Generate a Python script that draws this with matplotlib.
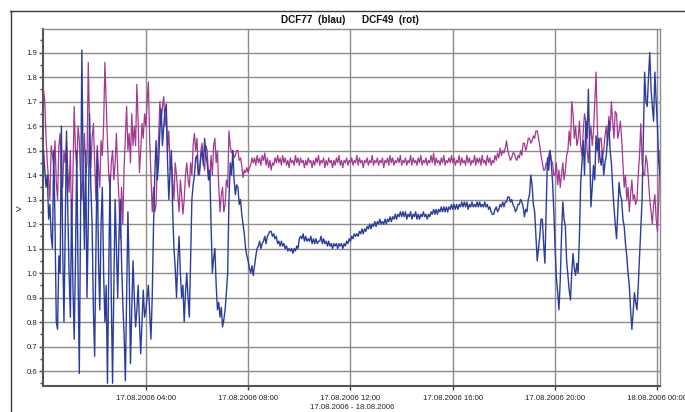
import numpy as np
import matplotlib
matplotlib.use("Agg")
import matplotlib.pyplot as plt
from matplotlib.lines import Line2D
from matplotlib import font_manager

# ---------------- data (sample interval 0.05 h = 3 min, starting 17.08.2006 00:00) ----
sample_step_h = 0.05

blue_00_02 = [1.50, 1.42, 1.35, 1.40, 1.22, 1.28, 1.15, 1.10, 1.50, 1.20,
              0.80, 0.77, 1.07, 1.00, 1.60, 1.10, 0.80, 1.20, 1.58, 1.25,
              1.00, 0.82, 1.30, 0.95, 0.73, 1.05, 1.50, 1.00, 0.59, 1.25,
              1.91, 1.40, 1.10, 1.50, 0.90, 1.20, 1.65, 1.35, 1.20, 0.85]
blue_02_04 = [0.66, 1.10, 1.50, 1.05, 0.85, 1.20, 1.35, 1.00, 0.80, 0.95,
              0.55, 1.00, 1.40, 0.90, 0.55, 0.95, 1.30, 1.10, 0.90, 1.15,
              1.30, 1.05, 0.88, 0.75, 0.56, 0.90, 1.25, 1.00, 0.63, 0.85,
              1.05, 0.90, 0.78, 0.85, 0.95, 0.80, 0.67, 0.80, 0.93, 0.82]
blue_04_06 = [0.85, 0.90, 0.95, 0.84, 0.73, 0.90, 1.19, 1.40, 1.54, 1.38,
              1.45, 1.58, 1.67, 1.52, 1.60, 1.66, 1.69, 1.45, 1.30, 1.42,
              1.50, 1.25, 1.10, 1.02, 0.90, 1.05, 1.15, 1.00, 0.90, 0.95,
              0.80, 0.92, 1.00, 0.90, 0.82, 1.05, 1.30, 1.36, 1.40, 1.47]
blue_06_08 = [1.48, 1.40, 1.42, 1.47, 1.50, 1.44, 1.55, 1.48, 1.45, 1.38,
              1.42, 1.20, 1.00, 1.06, 1.10, 0.95, 0.85, 0.88, 0.82, 0.86,
              0.78, 0.81, 0.85, 0.92, 1.00, 1.30, 1.45, 1.40, 1.50, 1.38,
              1.32, 1.36, 1.35, 1.28, 1.30, 1.24, 1.20, 1.16, 1.10, 1.07]
blue_08_10 = [1.05, 1.02, 1.00, 1.03, 0.99, 1.03, 1.07, 1.10, 1.11, 1.13,
              1.10, 1.12, 1.13, 1.15, 1.12, 1.15, 1.16, 1.17, 1.17, 1.15,
              1.16, 1.14, 1.15, 1.12, 1.13, 1.11, 1.13, 1.11, 1.12, 1.10,
              1.11, 1.09, 1.10, 1.09, 1.10, 1.08, 1.10, 1.09, 1.11, 1.10]
blue_10_12 = [1.14, 1.15, 1.14, 1.16, 1.13, 1.15, 1.13, 1.14, 1.13, 1.15,
              1.12, 1.14, 1.12, 1.14, 1.12, 1.13, 1.13, 1.15, 1.12, 1.14,
              1.12, 1.13, 1.11, 1.13, 1.11, 1.12, 1.10, 1.12, 1.11, 1.12,
              1.10, 1.12, 1.11, 1.12, 1.10, 1.12, 1.11, 1.13, 1.12, 1.14]
blue_12_14 = [1.13, 1.15, 1.14, 1.16, 1.15, 1.16, 1.15, 1.17, 1.16, 1.18,
              1.16, 1.18, 1.17, 1.19, 1.18, 1.20, 1.18, 1.20, 1.19, 1.21,
              1.19, 1.21, 1.20, 1.22, 1.20, 1.21, 1.20, 1.22, 1.20, 1.22,
              1.21, 1.23, 1.21, 1.23, 1.22, 1.24, 1.22, 1.24, 1.23, 1.25]
blue_14_16 = [1.23, 1.25, 1.23, 1.25, 1.22, 1.24, 1.23, 1.25, 1.22, 1.24,
              1.23, 1.25, 1.22, 1.24, 1.22, 1.24, 1.23, 1.25, 1.23, 1.24,
              1.22, 1.24, 1.23, 1.25, 1.24, 1.26, 1.24, 1.26, 1.24, 1.26,
              1.25, 1.27, 1.25, 1.27, 1.25, 1.27, 1.25, 1.27, 1.26, 1.28]
blue_16_18 = [1.26, 1.28, 1.26, 1.28, 1.26, 1.28, 1.27, 1.29, 1.27, 1.29,
              1.27, 1.29, 1.26, 1.28, 1.27, 1.29, 1.27, 1.28, 1.27, 1.29,
              1.27, 1.29, 1.27, 1.28, 1.27, 1.29, 1.27, 1.28, 1.26, 1.27,
              1.25, 1.24, 1.24, 1.26, 1.27, 1.25, 1.26, 1.28, 1.27, 1.29]
blue_18_20 = [1.27, 1.29, 1.29, 1.31, 1.31, 1.29, 1.30, 1.28, 1.27, 1.25,
              1.26, 1.28, 1.28, 1.30, 1.29, 1.27, 1.23, 1.26, 1.25, 1.30,
              1.32, 1.40, 1.36, 1.28, 1.25, 1.15, 1.05, 1.10, 1.15, 1.22,
              1.22, 1.12, 1.04, 1.25, 1.47, 1.42, 1.50, 1.45, 1.37, 1.25]
blue_20_22 = [1.10, 0.98, 0.92, 0.85, 0.97, 1.15, 1.29, 1.22, 1.19, 1.05,
              0.99, 0.93, 0.89, 1.00, 1.08, 1.02, 0.99, 1.04, 1.00, 1.15,
              1.37, 1.45, 1.54, 1.40, 1.62, 1.55, 1.75, 1.50, 1.27, 1.35,
              1.44, 1.38, 1.56, 1.50, 1.55, 1.47, 1.44, 1.50, 1.40, 1.45]
blue_22_24 = [1.48, 1.55, 1.62, 1.50, 1.45, 1.35, 1.27, 1.20, 1.14, 1.25,
              1.37, 1.32, 1.30, 1.22, 1.19, 1.12, 1.07, 1.00, 0.95, 0.85,
              0.77, 0.84, 0.92, 0.88, 0.85, 0.95, 1.07, 1.20, 1.30, 1.55,
              1.82, 1.70, 1.68, 1.80, 1.90, 1.75, 1.68, 1.62, 1.82, 1.70,
              1.60, 1.45, 1.40]

red_00_02 = [1.75, 1.70, 1.55, 1.45, 1.38, 1.30, 1.52, 1.48, 1.44, 1.54,
             1.37, 1.30, 1.52, 1.57, 1.40, 1.35, 1.50, 1.45, 1.54, 1.42,
             1.33, 1.50, 1.15, 1.40, 1.68, 1.50, 1.43, 1.60, 1.54, 1.38,
             1.30, 1.45, 1.57, 1.40, 1.45, 1.86, 1.60, 1.43, 1.55, 1.61]
red_02_04 = [1.45, 1.30, 1.52, 1.43, 1.35, 1.54, 1.48, 1.60, 1.86, 1.70,
             1.54, 1.40, 1.34, 1.45, 1.50, 1.38, 1.45, 1.57, 1.42, 1.30,
             1.14, 1.35, 1.20, 1.43, 1.55, 1.68, 1.50, 1.57, 1.45, 1.65,
             1.52, 1.60, 1.52, 1.77, 1.62, 1.41, 1.50, 1.61, 1.55, 1.65]
red_04_06 = [1.60, 1.70, 1.78, 1.55, 1.40, 1.25, 1.35, 1.25, 1.28, 1.45,
             1.55, 1.70, 1.62, 1.68, 1.72, 1.60, 1.65, 1.50, 1.58, 1.42,
             1.45, 1.38, 1.30, 1.45, 1.40, 1.32, 1.25, 1.38, 1.32, 1.24,
             1.30, 1.40, 1.45, 1.38, 1.35, 1.45, 1.40, 1.52, 1.57, 1.50]
red_06_08 = [1.55, 1.42, 1.40, 1.50, 1.53, 1.45, 1.42, 1.52, 1.50, 1.40,
             1.38, 1.48, 1.40, 1.52, 1.55, 1.45, 1.50, 1.35, 1.25, 1.32,
             1.35, 1.25, 1.28, 1.38, 1.35, 1.58, 1.52, 1.49, 1.50, 1.47,
             1.48, 1.50, 1.50, 1.46, 1.47, 1.44, 1.39, 1.42, 1.41, 1.43]
red_08_10 = [1.41, 1.43, 1.44, 1.47, 1.45, 1.47, 1.44, 1.48, 1.45, 1.47,
             1.44, 1.48, 1.46, 1.49, 1.44, 1.47, 1.43, 1.46, 1.42, 1.45,
             1.44, 1.47, 1.45, 1.48, 1.45, 1.47, 1.44, 1.48, 1.45, 1.47,
             1.44, 1.46, 1.43, 1.47, 1.45, 1.46, 1.44, 1.48, 1.45, 1.47]
red_10_12 = [1.44, 1.47, 1.45, 1.46, 1.43, 1.46, 1.44, 1.47, 1.45, 1.46,
             1.43, 1.46, 1.44, 1.47, 1.45, 1.48, 1.44, 1.46, 1.45, 1.47,
             1.43, 1.46, 1.44, 1.47, 1.45, 1.46, 1.43, 1.46, 1.44, 1.47,
             1.45, 1.48, 1.44, 1.46, 1.43, 1.46, 1.45, 1.47, 1.44, 1.46]
red_12_14 = [1.45, 1.47, 1.44, 1.46, 1.45, 1.48, 1.44, 1.47, 1.45, 1.46,
             1.43, 1.46, 1.45, 1.47, 1.44, 1.46, 1.45, 1.48, 1.44, 1.46,
             1.45, 1.47, 1.44, 1.46, 1.45, 1.47, 1.43, 1.46, 1.45, 1.47,
             1.44, 1.48, 1.45, 1.47, 1.44, 1.46, 1.45, 1.47, 1.45, 1.48]
red_14_16 = [1.44, 1.46, 1.45, 1.47, 1.44, 1.46, 1.45, 1.48, 1.44, 1.47,
             1.45, 1.46, 1.44, 1.47, 1.45, 1.48, 1.44, 1.46, 1.45, 1.47,
             1.44, 1.46, 1.45, 1.48, 1.45, 1.49, 1.44, 1.47, 1.45, 1.46,
             1.44, 1.47, 1.45, 1.48, 1.44, 1.46, 1.45, 1.47, 1.45, 1.48]
red_16_18 = [1.45, 1.47, 1.44, 1.46, 1.45, 1.48, 1.44, 1.47, 1.45, 1.46,
             1.44, 1.48, 1.45, 1.47, 1.44, 1.46, 1.45, 1.48, 1.44, 1.47,
             1.45, 1.47, 1.44, 1.48, 1.45, 1.46, 1.44, 1.48, 1.45, 1.47,
             1.44, 1.46, 1.45, 1.48, 1.46, 1.49, 1.47, 1.51, 1.48, 1.50]
red_18_20 = [1.49, 1.51, 1.54, 1.50, 1.48, 1.46, 1.47, 1.49, 1.49, 1.47,
             1.46, 1.48, 1.47, 1.50, 1.48, 1.53, 1.53, 1.50, 1.52, 1.55,
             1.55, 1.53, 1.54, 1.56, 1.55, 1.58, 1.58, 1.55, 1.52, 1.48,
             1.45, 1.42, 1.42, 1.45, 1.44, 1.48, 1.50, 1.46, 1.45, 1.40]
red_20_22 = [1.40, 1.45, 1.36, 1.42, 1.35, 1.40, 1.45, 1.38, 1.42, 1.48,
             1.50, 1.58, 1.52, 1.70, 1.65, 1.55, 1.60, 1.52, 1.55, 1.62,
             1.52, 1.48, 1.58, 1.65, 1.62, 1.50, 1.45, 1.55, 1.60, 1.52,
             1.58, 1.70, 1.82, 1.60, 1.45, 1.55, 1.55, 1.48, 1.50, 1.56]
red_22_24 = [1.60, 1.52, 1.64, 1.58, 1.70, 1.62, 1.55, 1.66, 1.65, 1.55,
             1.58, 1.62, 1.55, 1.45, 1.35, 1.40, 1.30, 1.35, 1.25, 1.32,
             1.38, 1.30, 1.32, 1.28, 1.30, 1.40, 1.48, 1.61, 1.45, 1.40,
             1.40, 1.48, 1.45, 1.38, 1.30, 1.25, 1.20, 1.28, 1.32, 1.22,
             1.17, 1.30, 1.50]

x_tick_hours = [4, 8, 12, 16, 20, 24]
x_tick_labels = ["17.08.2006 04:00", "17.08.2006 08:00", "17.08.2006 12:00",
                 "17.08.2006 16:00", "17.08.2006 20:00", "18.08.2006 00:00"]
y_tick_values = [0.6, 0.7, 0.8, 0.9, 1.0, 1.1, 1.2, 1.3, 1.4, 1.5, 1.6, 1.7, 1.8, 1.9]
y_tick_labels = ["0.6", "0.7", "0.8", "0.9", "1.0", "1.1", "1.2", "1.3", "1.4",
                 "1.5", "1.6", "1.7", "1.8", "1.9"]
title_blue = "DCF77  (blau)"
title_red = "DCF49  (rot)"
x_label = "17.08.2006 - 18.08.2006"
y_label = "V"

blue = np.array(blue_00_02 + blue_02_04 + blue_04_06 + blue_06_08 + blue_08_10 + blue_10_12
                + blue_12_14 + blue_14_16 + blue_16_18 + blue_18_20 + blue_20_22 + blue_22_24)
red = np.array(red_00_02 + red_02_04 + red_04_06 + red_06_08 + red_08_10 + red_10_12
               + red_12_14 + red_14_16 + red_16_18 + red_18_20 + red_20_22 + red_22_24)
t_blue = np.arange(len(blue)) * sample_step_h
t_red = np.arange(len(red)) * sample_step_h

# ---------------- fonts ----------------
names = {f.name for f in font_manager.fontManager.ttflist}
tick_font = "Liberation Sans Narrow" if "Liberation Sans Narrow" in names else "Liberation Sans"
tick_size = 6.6 if tick_font == "Liberation Sans Narrow" else 5.6

# ---------------- figure ----------------
W, H = 685, 412
fig = plt.figure(figsize=(W / 100, H / 100), dpi=100)
fig.patch.set_facecolor("white")

# outer frame (top and left visible)
fig.add_artist(Line2D([10 / W, 1.0], [1 - 11 / H, 1 - 11 / H], transform=fig.transFigure,
                      color="#3a3a3a", lw=1.0))
fig.add_artist(Line2D([11 / W, 11 / W], [0.0, 1 - 11 / H], transform=fig.transFigure,
                      color="#3a3a3a", lw=1.0))

left, right, top, bottom = 43.5, 660, 29.3, 385.7
ax = fig.add_axes([left / W, 1 - bottom / H, (right - left) / W, (bottom - top) / H])

grid_col = "#8c8c8c"
ax.plot(t_red, red, color="#a4378f", lw=0.9, zorder=3)
ax.plot(t_blue, blue, color="#2b3d9c", lw=1.0, zorder=4)

ax.set_xlim(0, 24.1)
ax.set_ylim(0.54, 1.995)

ax.set_xticks(x_tick_hours)
ax.set_xticklabels(x_tick_labels, fontfamily=tick_font, fontsize=tick_size, color="#222222")
ax.set_yticks(y_tick_values)
ax.set_yticklabels(y_tick_labels, fontfamily=tick_font, fontsize=tick_size, color="#222222")
ax.set_yticks([v + 0.05 for v in [0.5] + y_tick_values], minor=True)
ax.tick_params(axis="both", which="major", direction="out", length=3, width=1.0,
               color="#444444", pad=1.5)
ax.tick_params(axis="y", which="minor", direction="out", length=2, width=1.0, color="#444444")
ax.tick_params(axis="x", pad=4)

ax.grid(True, which="major", color=grid_col, lw=1.0, zorder=1)
ax.set_axisbelow(True)
for side in ["left", "bottom"]:
    ax.spines[side].set_color("#555555")
    ax.spines[side].set_linewidth(1.5)
for side in ["top", "right"]:
    ax.spines[side].set_color(grid_col)
    ax.spines[side].set_linewidth(1.0)

ax.set_xlabel(x_label, fontfamily=tick_font, fontsize=tick_size, color="#222222", labelpad=1)
fig.text(20 / W, 1 - 208 / H, y_label, rotation=90, ha="center", va="center",
         fontfamily=tick_font, fontsize=tick_size + 0.5, color="#222222")

fig.text(281 / W, 1 - 20 / H, title_blue, ha="left", va="center",
         fontfamily="Liberation Sans", fontweight="bold", fontsize=7.2, color="#111111")
fig.text(362 / W, 1 - 20 / H, title_red, ha="left", va="center",
         fontfamily="Liberation Sans", fontweight="bold", fontsize=7.2, color="#111111")

fig.savefig("out.png", dpi=100, facecolor="white")
